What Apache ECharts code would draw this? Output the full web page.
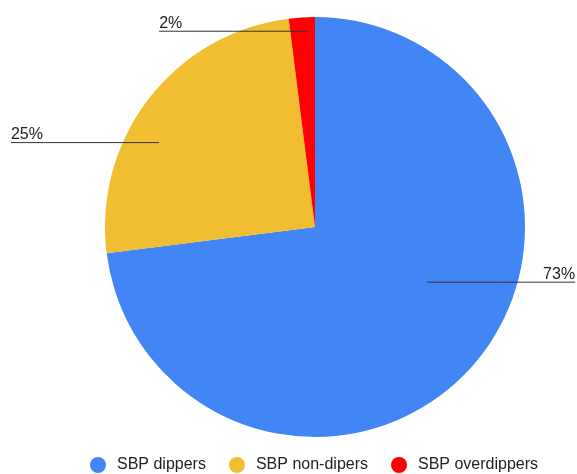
<!DOCTYPE html>
<html>
<head>
<meta charset="utf-8">
<script src="https://cdn.jsdelivr.net/npm/echarts@6/dist/echarts.min.js"></script>
<style>
html,body{margin:0;padding:0;background:#fff;}
#chart{width:577px;height:474px;}
</style>
</head>
<body>
<div id="chart"></div>
<script>
// ---- data ----
const categories = ['SBP dippers', 'SBP non-dipers', 'SBP overdippers'];
const values = [73, 25, 2];
const colors = ['#4285F4', '#F1BE32', '#FF0000'];

// ---- layout (not data) ----
const CX = 315, CY = 227, R = 210, LINE_LEN = 148;
// leader-line anchor inside each slice: angle clockwise from top (deg), fraction of radius
const labelAnchors = [
  { angle: 116.2, frac: 0.595 },
  { angle: 298.4, frac: 0.845 },
  { angle: 357.7, frac: 0.933 }
];

const chart = echarts.init(document.getElementById('chart'), null, { renderer: 'canvas' });
const FONT = '"Liberation Sans", Arial, sans-serif';

chart.setOption({
  animation: false,
  color: colors,
  legend: {
    data: categories,
    left: 90,
    top: 457,
    padding: 0,
    icon: 'circle',
    itemWidth: 16,
    itemHeight: 16,
    itemGap: 23,
    textStyle: { fontFamily: FONT, fontSize: 16, color: '#222', padding: [0, 0, 0, 6] }
  },
  series: [{
    // the visible pie
    type: 'pie',
    z: 2,
    center: [CX, CY],
    radius: R,
    startAngle: 90,
    clockwise: true,
    silent: true,
    data: categories.map((c, i) => ({ name: c, value: values[i], itemStyle: { color: colors[i] } })),
    itemStyle: { borderWidth: 0 },
    label: { show: false },
    labelLine: { show: false }
  }, {
    // transparent overlay on top carrying the percentage labels and leader lines
    type: 'pie',
    z: 5,
    center: [CX, CY],
    radius: R,
    startAngle: 90,
    clockwise: true,
    percentPrecision: 0,
    silent: true,
    data: categories.map((c, i) => ({ name: 'label-' + i, value: values[i] })),
    itemStyle: { color: 'rgba(0,0,0,0)', borderWidth: 0 },
    label: {
      show: true,
      position: 'outside',
      formatter: '{d}%',
      fontFamily: FONT,
      fontSize: 16,
      color: '#222'
    },
    labelLine: {
      show: true,
      showAbove: true,
      length: 10,
      length2: 10,
      lineStyle: { color: '#333', width: 1 }
    },
    labelLayout: function (params) {
      const a = labelAnchors[params.dataIndex];
      const t = a.angle * Math.PI / 180;
      const sx = CX + a.frac * R * Math.sin(t);
      const sy = CY - a.frac * R * Math.cos(t);
      const isLeft = Math.sin(t) < 0;
      const ex = isLeft ? sx - LINE_LEN : sx + LINE_LEN;
      return {
        x: ex,
        y: sy,
        align: isLeft ? 'left' : 'right',
        verticalAlign: 'bottom',
        labelLinePoints: [[sx, sy], [(sx + ex) / 2, sy], [ex, sy]]
      };
    }
  }]
});
</script>
</body>
</html>
